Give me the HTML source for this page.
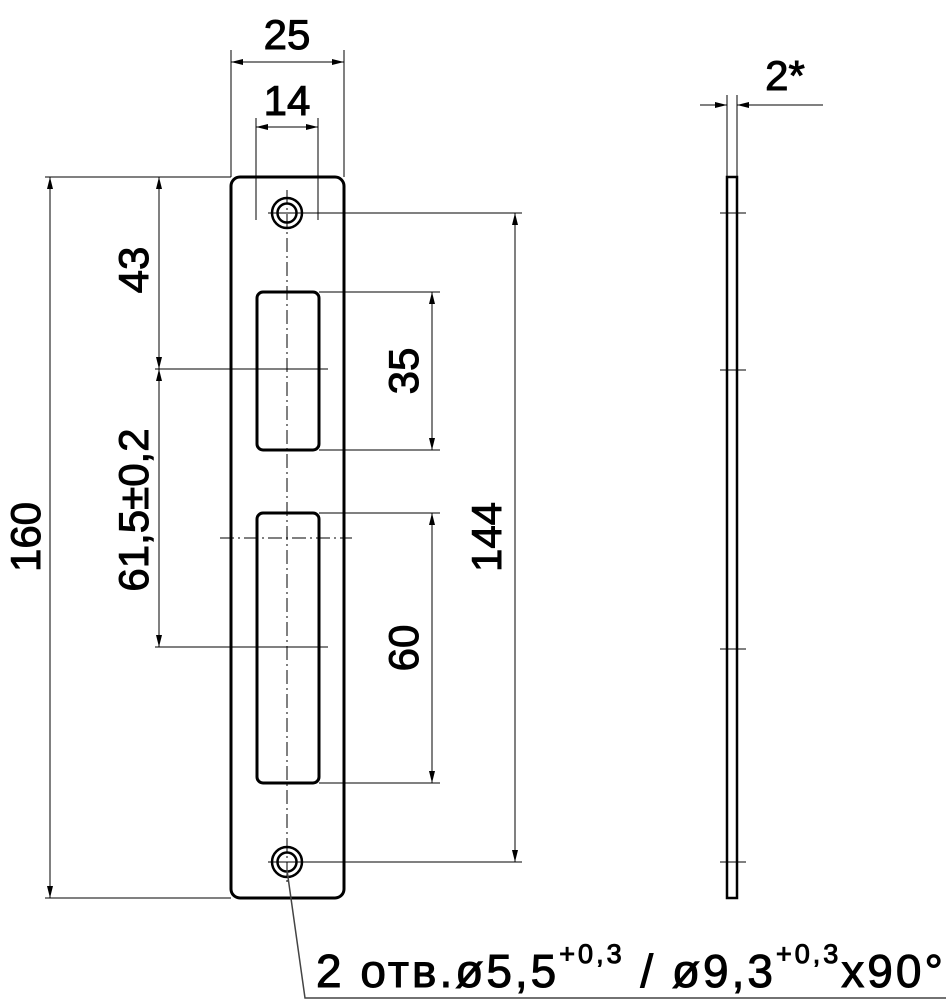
<!DOCTYPE html>
<html><head><style>body{margin:0;background:#fff}svg text{font-family:"Liberation Sans",sans-serif;fill:#000;stroke:#000;stroke-width:1}</style></head><body>
<svg width="946" height="1000" viewBox="0 0 946 1000" xmlns="http://www.w3.org/2000/svg">
<defs><marker id="a" viewBox="0 0 12 6" refX="12" refY="3" markerWidth="12" markerHeight="6" orient="auto-start-reverse" markerUnits="userSpaceOnUse"><path d="M0,0L12,3L0,6z" fill="#000"/></marker></defs>
<g stroke="#000" stroke-width="1" fill="none">
<rect x="231" y="177" width="113" height="721" rx="9" stroke-width="3"/>
<circle cx="287" cy="213" r="15" stroke-width="2.5"/><circle cx="287" cy="213" r="9.5" stroke-width="2.5"/>
<circle cx="287" cy="862" r="15" stroke-width="2.5"/><circle cx="287" cy="862" r="9.5" stroke-width="2.5"/>
<rect x="257" y="292" width="62" height="158" rx="6" stroke-width="3"/>
<rect x="257" y="513" width="62" height="270" rx="6" stroke-width="3"/>
<line x1="287" y1="190" x2="287" y2="885" stroke-dasharray="14,4,2,4"/>
<line x1="220" y1="538" x2="352" y2="538" stroke-dasharray="14,4,2,4"/>
<line x1="45" y1="177" x2="231" y2="177"/><line x1="45" y1="898" x2="231" y2="898"/>
<line x1="155" y1="369" x2="328" y2="369"/><line x1="155" y1="647" x2="328" y2="647"/>
<line x1="268" y1="213" x2="522" y2="213"/><line x1="268" y1="862" x2="522" y2="862"/>
<line x1="319" y1="292" x2="440" y2="292"/><line x1="319" y1="450" x2="440" y2="450"/>
<line x1="319" y1="513" x2="440" y2="513"/><line x1="319" y1="783" x2="440" y2="783"/>
<line x1="231" y1="50" x2="231" y2="177"/><line x1="344" y1="50" x2="344" y2="177"/>
<line x1="256" y1="118" x2="256" y2="220"/><line x1="318" y1="118" x2="318" y2="220"/>
<line x1="231" y1="62" x2="344" y2="62" marker-start="url(#a)" marker-end="url(#a)"/>
<line x1="256" y1="127" x2="318" y2="127" marker-start="url(#a)" marker-end="url(#a)"/>
<line x1="50" y1="177" x2="50" y2="898" marker-start="url(#a)" marker-end="url(#a)"/>
<line x1="159" y1="177" x2="159" y2="369" marker-start="url(#a)" marker-end="url(#a)"/>
<line x1="159" y1="369" x2="159" y2="647" marker-start="url(#a)" marker-end="url(#a)"/>
<line x1="432" y1="292" x2="432" y2="450" marker-start="url(#a)" marker-end="url(#a)"/>
<line x1="432" y1="513" x2="432" y2="783" marker-start="url(#a)" marker-end="url(#a)"/>
<line x1="515" y1="213" x2="515" y2="862" marker-start="url(#a)" marker-end="url(#a)"/>
<rect x="727" y="177" width="10" height="721" stroke-width="2.5"/>
<line x1="720" y1="213" x2="746" y2="213"/><line x1="720" y1="370" x2="746" y2="370"/>
<line x1="720" y1="649" x2="746" y2="649"/><line x1="720" y1="862" x2="746" y2="862"/>
<line x1="727" y1="95" x2="727" y2="177"/><line x1="737" y1="95" x2="737" y2="177"/>
<line x1="700" y1="105" x2="727" y2="105" marker-end="url(#a)"/>
<line x1="823" y1="105" x2="737" y2="105" marker-end="url(#a)"/>
<polyline points="287,870 305,998 946,998" stroke="#444" stroke-width="1.5"/>
</g>
<g font-size="42">
<text x="287" y="49" text-anchor="middle">25</text>
<text x="287" y="115" text-anchor="middle">14</text>
<text x="785" y="90" text-anchor="middle">2*</text>
<text transform="translate(40,537) rotate(-90)" text-anchor="middle">160</text>
<text transform="translate(148,270) rotate(-90)" text-anchor="middle">43</text>
<text transform="translate(148,510) rotate(-90)" text-anchor="middle">61,5±0,2</text>
<text transform="translate(418,371) rotate(-90)" text-anchor="middle">35</text>
<text transform="translate(418,648) rotate(-90)" text-anchor="middle">60</text>
<text transform="translate(501,537) rotate(-90)" text-anchor="middle">144</text>
<text x="316" y="987" font-size="46" letter-spacing="3">2 отв.ø5,5<tspan font-size="27" dy="-24">+0,3</tspan><tspan dy="24"> / ø9,3</tspan><tspan font-size="27" dy="-24">+0,3</tspan><tspan dy="24">x90°</tspan></text>
</g>
</svg>
</body></html>
